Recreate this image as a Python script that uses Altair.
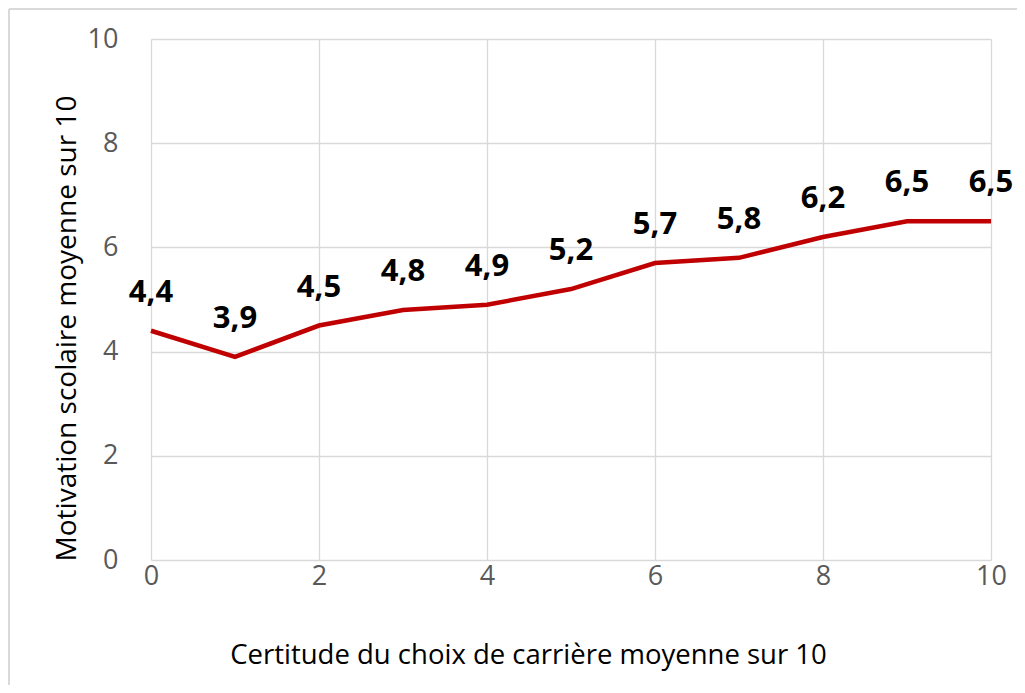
import altair as alt
import pandas as pd

x_vals = [0, 1, 2, 3, 4, 5, 6, 7, 8, 9, 10]
y_vals = [4.4, 3.9, 4.5, 4.8, 4.9, 5.2, 5.7, 5.8, 6.2, 6.5, 6.5]
labels = ["4,4", "3,9", "4,5", "4,8", "4,9", "5,2", "5,7", "5,8", "6,2", "6,5", "6,5"]

df = pd.DataFrame({"x": x_vals, "y": y_vals, "label": labels})

FONT = "Open Sans"
W, H = 840, 521

xs = alt.Scale(domain=[0, 10], nice=False, zero=False)
ys = alt.Scale(domain=[0, 10], nice=False)

base = alt.Chart(df)

line = base.mark_line(color="#C00000", strokeWidth=4.5, clip=False).encode(
    x=alt.X("x:Q", scale=xs,
            axis=alt.Axis(values=[0, 2, 4, 6, 8, 10], format="d",
                          title="Certitude du choix de carrière moyenne sur 10",
                          titleFont=FONT, titleFontSize=27.5, titleFontWeight="normal", titleColor="#000000",
                          titleX=377, titleY=81,
                          labelFont=FONT, labelFontSize=27, labelColor="#595959", labelPadding=3,
                          ticks=False, domain=False, grid=True, gridColor="#D9D9D9", gridWidth=1.3,
                          labelFlush=False)),
    y=alt.Y("y:Q", scale=ys,
            axis=alt.Axis(values=[0, 2, 4, 6, 8, 10], format="d",
                          title="Motivation scolaire moyenne sur 10",
                          titleFont=FONT, titleFontSize=28, titleFontWeight="normal", titleColor="#000000",
                          titleX=-70, titleY=289,
                          labelFont=FONT, labelFontSize=27, labelColor="#595959", labelPadding=33,
                          ticks=False, domain=False, grid=True, gridColor="#D9D9D9", gridWidth=1.3)),
)

text = base.mark_text(font=FONT, fontSize=31, fontWeight="bold", color="#000000", dy=-38, baseline="middle").encode(
    x=alt.X("x:Q", scale=xs),
    y=alt.Y("y:Q", scale=ys),
    text="label:N",
)

frame_left = alt.Chart(pd.DataFrame({"a": [0]})).mark_rule(color="#D9D9D9", strokeWidth=2).encode(
    x=alt.value(-142), y=alt.value(-30), y2=alt.value(H + 200)
)
frame_top = alt.Chart(pd.DataFrame({"a": [0]})).mark_rule(color="#D9D9D9", strokeWidth=2).encode(
    x=alt.value(-142), x2=alt.value(W + 200), y=alt.value(-30)
)

chart = alt.layer(frame_left, frame_top, line, text).properties(
    width=W, height=H,
    autosize=alt.AutoSizeParams(type="none"),
    padding={"left": 143, "top": 31, "right": 26, "bottom": 125},
).configure_view(stroke=None)

chart.save("out.html", embed_options={"renderer": "svg", "actions": False})
